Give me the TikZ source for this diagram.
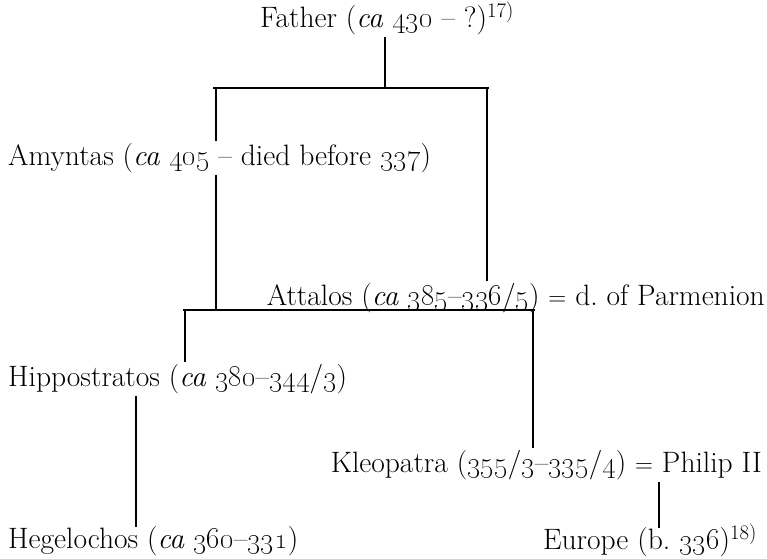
\documentclass[tikz,border=0pt]{standalone}
\usepackage{tikz}
\tikzset{
    person/.style = {inner xsep=0pt, inner ysep=2pt, font=\fontsize{29.5}{34}\selectfont},
    kin-line/.style = {draw=black, line width=1.1pt},
}
\newcommand{\yr}[1]{\oldstylenums{#1}}

\begin{document}
\begin{tikzpicture}[x=1pt, y=-1pt]
\useasboundingbox (0,0) rectangle (767,558);
\node [person, anchor=base] (father) at (387,27) {Father (\textit{ca} \yr{430} -- ?)\textsuperscript{17)}};
\node [person, anchor=base west] (amyntas) at (8,165) {Amyntas (\textit{ca} \yr{405} -- died before \yr{337})};
\node [person, anchor=base east] (attalos) at (765,305) {Attalos (\textit{ca} \yr{385}--\yr{336}/\yr{5}) $=$ d.\ of Parmenion};
\node [person, anchor=base west] (hippo) at (8,386) {Hippostratos (\textit{ca} \yr{380}--\yr{344}/\yr{3})};
\node [person, anchor=base east] (kleo) at (762,472) {Kleopatra (\yr{355}/\yr{3}--\yr{335}/\yr{4}) $=$ Philip II};
\node [person, anchor=base west] (hegel) at (8,548) {Hegelochos (\textit{ca} \yr{360}--\yr{331})};
\node [person, anchor=base east] (europe) at (757,549) {Europe (b.\ \yr{336})\textsuperscript{18)}};

% bars
\coordinate (bar1-l) at (213,88);
\coordinate (bar1-r) at (489,88);
\coordinate (bar2-l) at (183,310);
\coordinate (bar2-r) at (535,310);
\coordinate (drop-am) at (216,88);
\coordinate (drop-at) at (487,88);
\coordinate (drop-hi) at (185,310);
\coordinate (drop-kl) at (533,310);
\coordinate (hegel-top) at (136,527);
\coordinate (europe-top) at (659,528);

\draw [kin-line] (bar1-l) -- (bar1-r);
\draw [kin-line] (bar2-l) -- (bar2-r);
\draw [kin-line] (father.south -| 385,0) -- (bar1-l -| 385,0);
\draw [kin-line] (drop-am) -- (drop-am |- amyntas.north);
\draw [kin-line] (drop-am |- amyntas.south) -- (drop-am |- bar2-l);
\draw [kin-line] (drop-at) -- (drop-at |- attalos.north);
\draw [kin-line] (drop-hi) -- (drop-hi |- hippo.north);
\draw [kin-line] (drop-kl) -- (drop-kl |- kleo.north);
\draw [kin-line] (hippo.south -| hegel-top) -- (hegel-top);
\draw [kin-line] (kleo.south -| europe-top) -- (europe-top);
\end{tikzpicture}
\end{document}
